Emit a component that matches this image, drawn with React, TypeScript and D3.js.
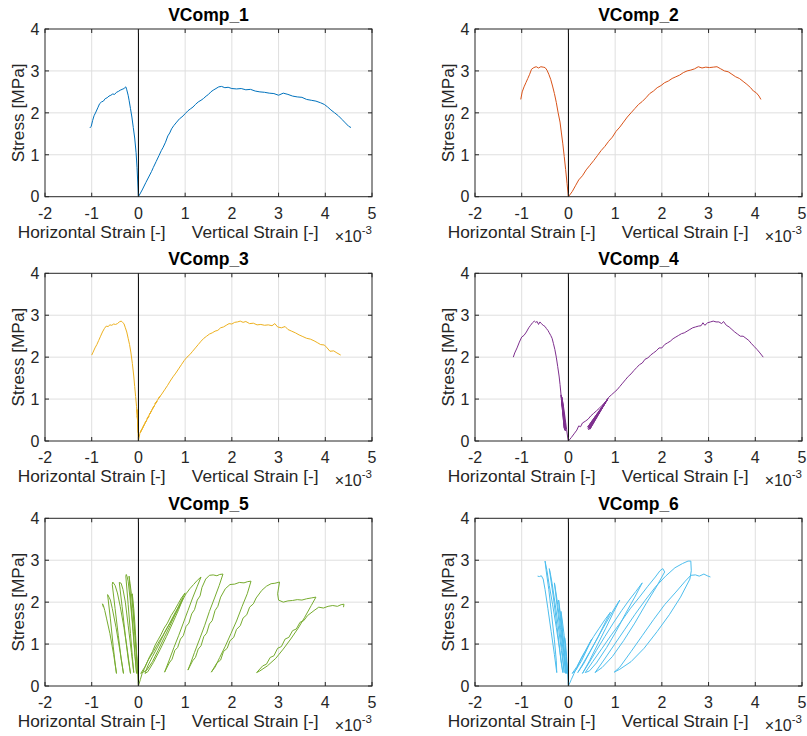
import * as d3 from "d3";
import React from "react";

// strain values are in units of 1e-3, stress in MPa
const xTicks = [-2, -1, 0, 1, 2, 3, 4, 5];
const yTicks = [0, 1, 2, 3, 4];
const titles = ["VComp_1", "VComp_2", "VComp_3", "VComp_4", "VComp_5", "VComp_6"];
const colors = ["#0072BD", "#D95319", "#EDB120", "#7E2F8E", "#77AC30", "#4DBEEE"];

const horiz1 = [[-1.04,1.64],[-1.01,1.68],[-0.98,1.82],[-0.95,1.93],[-0.91,2.02],[-0.87,2.12],[-0.83,2.22],[-0.79,2.26],[-0.75,2.28],[-0.71,2.34],[-0.67,2.36],[-0.63,2.4],[-0.59,2.42],[-0.55,2.45],[-0.51,2.44],[-0.47,2.49],[-0.43,2.51],[-0.39,2.54],[-0.35,2.56],[-0.31,2.58],[-0.29,2.6],[-0.27,2.62],[-0.25,2.55],[-0.22,2.42],[-0.2,2.3],[-0.17,2.1],[-0.14,1.9],[-0.11,1.65],[-0.08,1.4],[-0.05,1.05],[-0.03,0.7],[-0.015,0.35],[0,0]];
const vert1 = [[0,0],[0.08,0.16],[0.16,0.34],[0.22,0.47],[0.28,0.6],[0.32,0.7],[0.38,0.84],[0.44,0.98],[0.49,1.1],[0.53,1.18],[0.58,1.3],[0.63,1.45],[0.67,1.52],[0.71,1.62],[0.76,1.7],[0.82,1.78],[0.88,1.86],[0.93,1.9],[1.0,1.98],[1.06,2.05],[1.12,2.1],[1.17,2.14],[1.22,2.2],[1.28,2.26],[1.34,2.3],[1.39,2.34],[1.45,2.4],[1.5,2.44],[1.55,2.5],[1.6,2.54],[1.66,2.58],[1.72,2.62],[1.78,2.63],[1.85,2.6],[1.92,2.61],[2.0,2.58],[2.1,2.57],[2.2,2.58],[2.3,2.55],[2.4,2.56],[2.5,2.52],[2.6,2.5],[2.7,2.49],[2.8,2.47],[2.9,2.46],[3.0,2.42],[3.1,2.47],[3.2,2.44],[3.3,2.4],[3.4,2.38],[3.5,2.37],[3.6,2.32],[3.7,2.3],[3.8,2.28],[3.9,2.24],[3.98,2.2],[4.05,2.14],[4.12,2.07],[4.2,2.0],[4.28,1.93],[4.36,1.84],[4.43,1.76],[4.5,1.68],[4.55,1.65]];

const horiz2 = [[-1.02,2.32],[-0.99,2.5],[-0.95,2.62],[-0.91,2.72],[-0.87,2.82],[-0.83,2.92],[-0.79,3.04],[-0.74,3.08],[-0.69,3.1],[-0.64,3.07],[-0.59,3.1],[-0.54,3.09],[-0.5,3.08],[-0.46,3.02],[-0.42,2.92],[-0.38,2.8],[-0.34,2.64],[-0.3,2.46],[-0.26,2.25],[-0.22,2.0],[-0.18,1.78],[-0.15,1.52],[-0.12,1.26],[-0.09,0.96],[-0.06,0.65],[-0.03,0.32],[0,0]];
const vert2 = [[0,0],[0.08,0.12],[0.15,0.26],[0.22,0.4],[0.3,0.5],[0.38,0.64],[0.46,0.75],[0.54,0.86],[0.62,0.98],[0.7,1.1],[0.78,1.2],[0.86,1.32],[0.94,1.42],[1.02,1.56],[1.1,1.66],[1.18,1.78],[1.26,1.9],[1.34,2.0],[1.42,2.1],[1.5,2.2],[1.58,2.27],[1.66,2.36],[1.74,2.46],[1.82,2.52],[1.9,2.6],[1.98,2.65],[2.06,2.72],[2.14,2.76],[2.22,2.82],[2.3,2.86],[2.38,2.9],[2.46,2.96],[2.54,3.0],[2.62,3.02],[2.7,3.05],[2.78,3.1],[2.86,3.07],[2.94,3.09],[3.02,3.08],[3.1,3.09],[3.18,3.1],[3.26,3.05],[3.34,3.0],[3.42,2.98],[3.5,2.92],[3.58,2.86],[3.66,2.82],[3.74,2.75],[3.82,2.68],[3.9,2.6],[3.96,2.52],[4.02,2.48],[4.08,2.4],[4.12,2.32]];

const horiz3 = [[-1.0,2.05],[-0.97,2.12],[-0.93,2.22],[-0.89,2.3],[-0.85,2.4],[-0.81,2.5],[-0.77,2.6],[-0.73,2.68],[-0.69,2.74],[-0.65,2.73],[-0.61,2.77],[-0.57,2.76],[-0.53,2.79],[-0.49,2.78],[-0.45,2.8],[-0.41,2.84],[-0.37,2.86],[-0.34,2.83],[-0.31,2.8],[-0.28,2.7],[-0.25,2.6],[-0.22,2.45],[-0.19,2.3],[-0.16,2.1],[-0.13,1.85],[-0.1,1.55],[-0.08,1.3],[-0.06,1.06],[-0.04,0.82],[-0.02,0.55],[-0.03,0.75],[-0.01,0.35],[-0.025,0.6],[-0.005,0.2],[-0.015,0.45],[0,0]];
const vert3 = [[0,0],[0.03,0.18],[0.07,0.28],[0.04,0.2],[0.1,0.33],[0.07,0.27],[0.14,0.42],[0.1,0.34],[0.18,0.5],[0.14,0.43],[0.23,0.6],[0.18,0.52],[0.28,0.72],[0.23,0.62],[0.34,0.84],[0.29,0.75],[0.4,0.95],[0.35,0.88],[0.46,1.06],[0.42,1.0],[0.5,1.12],[0.56,1.22],[0.62,1.32],[0.68,1.43],[0.74,1.53],[0.8,1.62],[0.86,1.72],[0.92,1.82],[0.98,1.92],[1.04,2.0],[1.1,2.06],[1.16,2.14],[1.22,2.22],[1.28,2.3],[1.34,2.38],[1.4,2.45],[1.46,2.5],[1.52,2.55],[1.58,2.58],[1.64,2.62],[1.7,2.64],[1.76,2.7],[1.82,2.72],[1.88,2.76],[1.94,2.8],[2.0,2.79],[2.06,2.83],[2.12,2.84],[2.18,2.86],[2.24,2.83],[2.3,2.85],[2.38,2.8],[2.46,2.81],[2.54,2.77],[2.62,2.78],[2.7,2.76],[2.78,2.77],[2.86,2.75],[2.92,2.8],[2.98,2.72],[3.06,2.7],[3.14,2.73],[3.2,2.66],[3.28,2.62],[3.36,2.58],[3.44,2.53],[3.52,2.49],[3.6,2.45],[3.68,2.43],[3.76,2.39],[3.84,2.34],[3.9,2.3],[3.98,2.29],[4.04,2.22],[4.1,2.14],[4.18,2.15],[4.25,2.1],[4.33,2.05]];

const horiz4 = [[0,0],[-0.02,0.12],[-0.04,0.28],[-0.06,0.45],[-0.08,0.62],[-0.1,0.78],[-0.12,0.92],[-0.14,1.05],[-0.07,0.28],[-0.13,0.98],[-0.06,0.3],[-0.15,1.08],[-0.08,0.26],[-0.14,1.02],[-0.07,0.35],[-0.16,1.1],[-0.09,0.3],[-0.15,1.0],[-0.065,0.24],[-0.16,1.12],[-0.18,1.35],[-0.2,1.55],[-0.23,1.78],[-0.26,2.0],[-0.29,2.18],[-0.32,2.32],[-0.35,2.45],[-0.38,2.52],[-0.41,2.58],[-0.44,2.64],[-0.47,2.68],[-0.5,2.73],[-0.54,2.76],[-0.58,2.8],[-0.61,2.84],[-0.64,2.78],[-0.67,2.85],[-0.7,2.83],[-0.73,2.86],[-0.77,2.82],[-0.81,2.76],[-0.85,2.7],[-0.9,2.6],[-0.95,2.52],[-1.0,2.48],[-1.05,2.36],[-1.1,2.22],[-1.15,2.1],[-1.18,2.0]];
const vert4 = [[0,0],[0.06,0.08],[0.12,0.17],[0.18,0.26],[0.22,0.36],[0.26,0.34],[0.3,0.43],[0.36,0.47],[0.42,0.52],[0.48,0.6],[0.54,0.66],[0.6,0.72],[0.66,0.78],[0.72,0.85],[0.78,0.92],[0.84,1.0],[0.43,0.27],[0.82,0.96],[0.45,0.3],[0.85,1.02],[0.41,0.33],[0.8,0.94],[0.46,0.28],[0.84,1.0],[0.44,0.34],[0.83,0.98],[0.42,0.3],[0.86,1.04],[0.92,1.1],[0.98,1.16],[1.04,1.22],[1.1,1.3],[1.16,1.38],[1.22,1.46],[1.28,1.54],[1.34,1.6],[1.4,1.68],[1.46,1.75],[1.52,1.82],[1.58,1.86],[1.64,1.95],[1.7,1.98],[1.76,2.05],[1.82,2.1],[1.88,2.15],[1.94,2.22],[2.0,2.22],[2.06,2.3],[2.12,2.34],[2.18,2.38],[2.24,2.44],[2.3,2.48],[2.36,2.52],[2.42,2.56],[2.48,2.58],[2.54,2.62],[2.6,2.66],[2.66,2.7],[2.72,2.72],[2.78,2.74],[2.84,2.75],[2.88,2.82],[2.92,2.76],[2.98,2.82],[3.04,2.84],[3.1,2.86],[3.16,2.84],[3.22,2.84],[3.28,2.8],[3.32,2.85],[3.38,2.76],[3.44,2.72],[3.5,2.66],[3.56,2.6],[3.62,2.55],[3.68,2.5],[3.74,2.5],[3.8,2.45],[3.86,2.4],[3.92,2.32],[3.98,2.25],[4.04,2.18],[4.1,2.1],[4.17,2.0]];

const horiz5 = [[0,0],[-0.02,0.4],[-0.04,0.8],[-0.06,1.2],[-0.08,1.55],[-0.1,1.85],[-0.12,2.05],[-0.13,2.2],[-0.1,1.6],[-0.06,1.0],[-0.03,0.55],[-0.01,0.3],[-0.04,0.75],[-0.08,1.3],[-0.12,1.85],[-0.15,2.2],[-0.18,2.45],[-0.2,2.62],[-0.16,2.0],[-0.11,1.3],[-0.07,0.7],[-0.04,0.3],[-0.08,0.8],[-0.13,1.5],[-0.18,2.1],[-0.22,2.5],[-0.24,2.6],[-0.26,2.66],[-0.27,2.62],[-0.22,1.95],[-0.17,1.25],[-0.13,0.7],[-0.1,0.32],[-0.15,0.8],[-0.22,1.45],[-0.28,2.0],[-0.33,2.3],[-0.37,2.45],[-0.41,2.47],[-0.35,1.9],[-0.28,1.2],[-0.22,0.65],[-0.17,0.3],[-0.23,0.8],[-0.31,1.4],[-0.39,1.9],[-0.45,2.22],[-0.5,2.4],[-0.55,2.48],[-0.56,2.42],[-0.5,1.85],[-0.43,1.2],[-0.37,0.65],[-0.32,0.3],[-0.39,0.8],[-0.48,1.4],[-0.56,1.85],[-0.6,2.05],[-0.63,2.12],[-0.66,2.18],[-0.6,1.6],[-0.54,0.95],[-0.5,0.55],[-0.47,0.3],[-0.53,0.75],[-0.61,1.25],[-0.68,1.6],[-0.72,1.8],[-0.75,1.92],[-0.77,1.96],[-0.75,1.88]];
const vert5 = [[0,0],[0.04,0.15],[0.08,0.3],[0.13,0.42],[0.18,0.55],[0.24,0.7],[0.3,0.82],[0.36,0.98],[0.42,1.1],[0.48,1.22],[0.55,1.38],[0.62,1.5],[0.7,1.68],[0.78,1.82],[0.85,1.96],[0.92,2.1],[1.0,2.22],[0.9,2.0],[0.8,1.75],[0.68,1.45],[0.55,1.15],[0.42,0.85],[0.3,0.58],[0.18,0.38],[0.05,0.3],[0.14,0.46],[0.22,0.64],[0.32,0.82],[0.42,1.02],[0.52,1.2],[0.62,1.4],[0.72,1.58],[0.82,1.78],[0.9,1.95],[0.96,2.1],[0.86,1.82],[0.74,1.52],[0.6,1.18],[0.46,0.86],[0.32,0.56],[0.2,0.34],[0.14,0.3],[0.2,0.48],[0.3,0.7],[0.42,0.95],[0.55,1.25],[0.68,1.52],[0.8,1.78],[0.92,2.0],[1.02,2.2],[1.1,2.32],[1.18,2.42],[1.26,2.52],[1.34,2.6],[1.26,2.38],[1.16,2.1],[1.06,1.8],[0.96,1.5],[0.86,1.2],[0.76,0.92],[0.66,0.62],[0.56,0.33],[0.66,0.55],[0.72,0.64],[0.78,0.85],[0.84,0.92],[0.9,1.12],[0.96,1.2],[1.02,1.42],[1.08,1.5],[1.14,1.72],[1.2,1.82],[1.26,2.05],[1.32,2.15],[1.36,2.35],[1.44,2.55],[1.52,2.64],[1.6,2.65],[1.68,2.63],[1.74,2.66],[1.81,2.67],[1.73,2.4],[1.63,2.1],[1.52,1.78],[1.42,1.45],[1.32,1.15],[1.2,0.8],[1.12,0.55],[1.06,0.38],[1.16,0.6],[1.22,0.68],[1.28,0.88],[1.34,0.96],[1.4,1.18],[1.46,1.26],[1.52,1.48],[1.58,1.56],[1.64,1.8],[1.7,1.9],[1.76,2.12],[1.86,2.32],[1.96,2.42],[2.06,2.43],[2.16,2.47],[2.26,2.46],[2.34,2.49],[2.41,2.5],[2.33,2.2],[2.22,1.9],[2.1,1.55],[1.98,1.25],[1.86,0.95],[1.74,0.68],[1.64,0.45],[1.56,0.33],[1.68,0.55],[1.76,0.62],[1.82,0.82],[1.9,0.9],[1.96,1.08],[2.04,1.16],[2.1,1.35],[2.18,1.44],[2.24,1.62],[2.32,1.7],[2.38,1.88],[2.46,1.96],[2.52,2.1],[2.64,2.28],[2.74,2.38],[2.84,2.44],[2.92,2.45],[3.02,2.48],[2.98,2.2],[3.0,2.05],[3.1,2.0],[3.2,2.03],[3.3,2.04],[3.4,2.06],[3.5,2.05],[3.6,2.08],[3.7,2.1],[3.8,2.12],[3.7,1.92],[3.56,1.64],[3.42,1.38],[3.26,1.12],[3.1,0.88],[2.94,0.66],[2.76,0.48],[2.6,0.36],[2.53,0.32],[2.66,0.48],[2.74,0.52],[2.82,0.68],[2.9,0.72],[2.98,0.9],[3.06,0.94],[3.14,1.12],[3.22,1.16],[3.3,1.32],[3.38,1.36],[3.46,1.52],[3.54,1.56],[3.62,1.68],[3.76,1.8],[3.86,1.88],[3.96,1.86],[4.06,1.9],[4.16,1.92],[4.26,1.9],[4.34,1.94],[4.4,1.95],[4.39,1.88]];

const horiz6 = [[0,0],[-0.02,0.35],[-0.04,0.7],[-0.06,1.0],[-0.08,1.15],[-0.05,0.7],[-0.02,0.3],[-0.05,0.7],[-0.09,1.2],[-0.13,1.55],[-0.16,1.78],[-0.11,1.1],[-0.06,0.5],[-0.04,0.3],[-0.08,0.75],[-0.13,1.3],[-0.17,1.7],[-0.21,2.05],[-0.15,1.35],[-0.09,0.7],[-0.06,0.3],[-0.11,0.8],[-0.17,1.4],[-0.23,1.95],[-0.27,2.25],[-0.3,2.46],[-0.22,1.7],[-0.14,0.9],[-0.09,0.32],[-0.15,0.85],[-0.22,1.45],[-0.29,2.0],[-0.35,2.45],[-0.39,2.7],[-0.41,2.8],[-0.32,2.1],[-0.22,1.2],[-0.16,0.6],[-0.12,0.32],[-0.18,0.8],[-0.26,1.4],[-0.34,1.95],[-0.41,2.4],[-0.46,2.75],[-0.5,2.98],[-0.48,2.78],[-0.42,2.3],[-0.36,1.7],[-0.3,1.1],[-0.26,0.6],[-0.25,0.32],[-0.3,0.75],[-0.37,1.3],[-0.44,1.85],[-0.5,2.3],[-0.54,2.55],[-0.58,2.63],[-0.62,2.61],[-0.66,2.62]];
const vert6 = [[0,0],[0.06,0.15],[0.12,0.3],[0.2,0.48],[0.28,0.66],[0.36,0.82],[0.44,1.0],[0.5,1.12],[0.4,0.88],[0.28,0.6],[0.16,0.38],[0.08,0.3],[0.18,0.46],[0.3,0.72],[0.42,0.95],[0.54,1.18],[0.66,1.38],[0.78,1.58],[0.9,1.76],[0.78,1.5],[0.64,1.18],[0.48,0.85],[0.32,0.52],[0.2,0.32],[0.32,0.55],[0.46,0.82],[0.6,1.1],[0.74,1.38],[0.88,1.65],[1.0,1.88],[1.1,2.05],[0.96,1.75],[0.8,1.38],[0.62,0.98],[0.45,0.6],[0.3,0.3],[0.44,0.55],[0.6,0.85],[0.78,1.18],[0.96,1.5],[1.14,1.8],[1.3,2.05],[1.44,2.25],[1.58,2.46],[1.42,2.12],[1.22,1.72],[1.02,1.3],[0.82,0.92],[0.6,0.55],[0.45,0.36],[0.36,0.32],[0.52,0.58],[0.72,0.9],[0.92,1.22],[1.12,1.52],[1.32,1.84],[1.52,2.12],[1.7,2.38],[1.86,2.6],[1.96,2.75],[2.02,2.8],[2.06,2.72],[1.88,2.36],[1.66,1.96],[1.42,1.5],[1.18,1.08],[0.94,0.7],[0.72,0.44],[0.57,0.32],[0.76,0.62],[0.98,0.98],[1.2,1.34],[1.42,1.7],[1.64,2.04],[1.86,2.36],[2.08,2.62],[2.28,2.82],[2.44,2.92],[2.56,2.98],[2.62,2.98],[2.63,2.75],[2.6,2.55],[2.4,2.12],[2.16,1.7],[1.9,1.3],[1.62,0.9],[1.34,0.58],[1.1,0.4],[0.98,0.33],[1.1,0.45],[1.34,0.82],[1.58,1.2],[1.82,1.58],[2.06,1.94],[2.3,2.24],[2.5,2.5],[2.62,2.64],[2.72,2.65],[2.8,2.62],[2.9,2.67],[2.97,2.63],[3.04,2.6]];

const horizontal = [horiz1, horiz2, horiz3, horiz4, horiz5, horiz6];
const vertical = [vert1, vert2, vert3, vert4, vert5, vert6];

const FONT = "'Liberation Sans', Arial, Helvetica, sans-serif";
const TEXT = "#262626";
const colLeft = [45, 475];
const rowTop = [29, 273.3, 518.3];
const plotW = 327;
const plotH = 167.7;

function Panel({ idx }: { idx: number }) {
  const left = colLeft[idx % 2];
  const top = rowTop[Math.floor(idx / 2)];
  const x = d3.scaleLinear().domain([-2, 5]).range([left, left + plotW]);
  const y = d3.scaleLinear().domain([0, 4]).range([top + plotH, top]);
  const line = d3
    .line<number[]>()
    .x((d) => x(d[0]))
    .y((d) => y(d[1]));
  const bottom = top + plotH;
  const tick = 4;

  return (
    <g>
      {/* grid */}
      {xTicks.slice(1, -1).map((t) => (
        <line key={"gx" + t} x1={x(t)} x2={x(t)} y1={top} y2={bottom} stroke="#dfdfdf" strokeWidth={1} />
      ))}
      {yTicks.slice(1, -1).map((t) => (
        <line key={"gy" + t} x1={left} x2={left + plotW} y1={y(t)} y2={y(t)} stroke="#dfdfdf" strokeWidth={1} />
      ))}

      {/* data */}
      <path d={line(horizontal[idx]) || ""} fill="none" stroke={colors[idx]} strokeWidth={1} strokeLinejoin="round" />
      <path d={line(vertical[idx]) || ""} fill="none" stroke={colors[idx]} strokeWidth={1} strokeLinejoin="round" />

      {/* zero line */}
      <line x1={x(0)} x2={x(0)} y1={y(0)} y2={y(4)} stroke="#000" strokeWidth={1} />

      {/* ticks */}
      {xTicks.map((t) => (
        <g key={"tx" + t}>
          <line x1={x(t)} x2={x(t)} y1={bottom} y2={bottom - tick} stroke={TEXT} />
          <line x1={x(t)} x2={x(t)} y1={top} y2={top + tick} stroke={TEXT} />
          <text x={x(t)} y={bottom + 22} textAnchor="middle" fontSize={16} fill={TEXT}>
            {t}
          </text>
        </g>
      ))}
      {yTicks.map((t) => (
        <g key={"ty" + t}>
          <line x1={left} x2={left + tick} y1={y(t)} y2={y(t)} stroke={TEXT} />
          <line x1={left + plotW} x2={left + plotW - tick} y1={y(t)} y2={y(t)} stroke={TEXT} />
          <text x={left - 5.5} y={y(t)} dy="0.36em" textAnchor="end" fontSize={16} fill={TEXT}>
            {t}
          </text>
        </g>
      ))}

      {/* box */}
      <rect x={left} y={top} width={plotW} height={plotH} fill="none" stroke={TEXT} strokeWidth={1} />

      {/* labels */}
      <text x={left + plotW / 2} y={top - 8.5} textAnchor="middle" fontSize={17.5} fontWeight="bold" fill="#000">
        {titles[idx]}
      </text>
      <text x={x(-1)} y={bottom + 41} textAnchor="middle" fontSize={17.3} fill={TEXT}>
        Horizontal Strain [-]
      </text>
      <text x={x(2.5)} y={bottom + 41} textAnchor="middle" fontSize={17.3} fill={TEXT}>
        Vertical Strain [-]
      </text>
      <text x={left + plotW} y={bottom + 45} textAnchor="end" fontSize={16} fill={TEXT}>
        ×10
        <tspan fontSize={11.5} dy={-8}>
          -3
        </tspan>
      </text>
      <text
        transform={`translate(${left - 21}, ${top + plotH / 2}) rotate(-90)`}
        textAnchor="middle"
        fontSize={17.3}
        fill={TEXT}
      >
        Stress [MPa]
      </text>
    </g>
  );
}

export default function App() {
  return (
    <svg
      width={807}
      height={736}
      style={{ position: "absolute", left: 0, top: 0, background: "#fff", fontFamily: FONT }}
    >
      <rect width={807} height={736} fill="#fff" />
      {titles.map((_, i) => (
        <Panel key={i} idx={i} />
      ))}
    </svg>
  );
}
